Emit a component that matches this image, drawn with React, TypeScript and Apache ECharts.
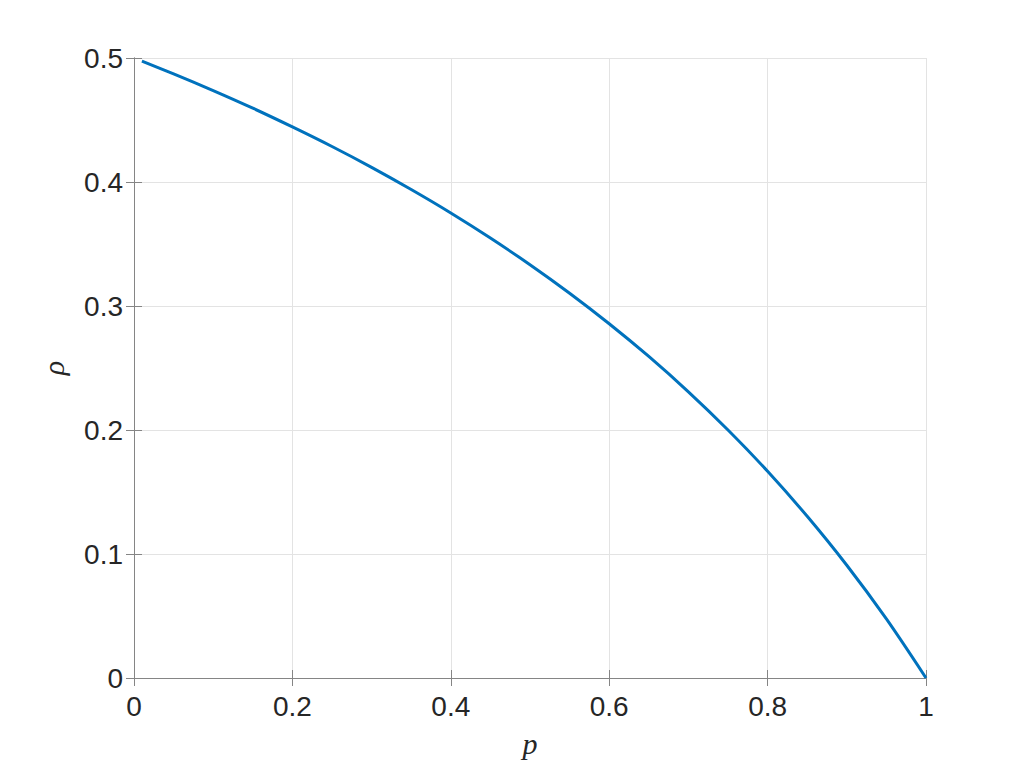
import React, { useEffect, useRef } from "react";
import * as echarts from "echarts";

const pValues = [0.01, 0.05, 0.1, 0.15, 0.2, 0.25, 0.3, 0.35, 0.4, 0.45, 0.5, 0.55, 0.6, 0.65, 0.7, 0.75, 0.8, 0.85, 0.9, 0.95, 1.0];
const rhoValues = [0.4975, 0.4872, 0.4737, 0.4595, 0.4444, 0.4286, 0.4118, 0.3939, 0.375, 0.3548, 0.3333, 0.3103, 0.2857, 0.2593, 0.2308, 0.2, 0.1667, 0.1304, 0.0909, 0.0476, 0.0];
const xTicks = ["0", "0.2", "0.4", "0.6", "0.8", "1"];
const yTicks = ["0", "0.1", "0.2", "0.3", "0.4", "0.5"];

const axisColor = "#858585";
const textColor = "#262626";
const gridColor = "#e3e3e3";
const labelFont = "'Liberation Sans', Arial, Helvetica, sans-serif";
const nameFont = "'Liberation Serif', 'DejaVu Serif', serif";

export default function App() {
  const ref = useRef<HTMLDivElement>(null);
  useEffect(() => {
    if (!ref.current) return;
    const chart = echarts.init(ref.current, undefined, { renderer: "svg" });
    const fmt = (list: string[], step: number) => (v: number) => {
      const i = Math.round(v / step);
      return list[i] ?? String(v);
    };
    const baseAxisLine = { show: true, lineStyle: { color: axisColor, width: 1 } };
    const tick = { show: true, inside: true, length: 8, lineStyle: { color: axisColor, width: 1 } };
    chart.setOption({
      animation: false,
      backgroundColor: "#ffffff",
      grid: { left: 134, top: 58, right: 98, bottom: 89, containLabel: false },
      xAxis: [
        {
          type: "value",
          min: 0,
          max: 1,
          interval: 0.2,
          position: "bottom",
          axisLine: baseAxisLine,
          axisTick: tick,
          axisLabel: {
            color: textColor,
            fontSize: 28,
            fontFamily: labelFont,
            margin: 14,
            formatter: fmt(xTicks, 0.2),
          },
          splitLine: { show: true, lineStyle: { color: gridColor, width: 1 } },
          name: "p",
          nameLocation: "middle",
          nameGap: 50,
          nameTextStyle: { fontSize: 30, fontStyle: "italic", fontFamily: nameFont, color: textColor },
        },
        {
          type: "value",
          min: 0,
          max: 1,
          interval: 0.2,
          position: "top",
          axisLine: baseAxisLine,
          axisTick: tick,
          axisLabel: { show: false },
          splitLine: { show: false },
        },
      ],
      yAxis: [
        {
          type: "value",
          min: 0,
          max: 0.5,
          interval: 0.1,
          position: "left",
          axisLine: baseAxisLine,
          axisTick: tick,
          axisLabel: {
            color: textColor,
            fontSize: 28,
            fontFamily: labelFont,
            margin: 11,
            formatter: fmt(yTicks, 0.1),
          },
          splitLine: { show: true, lineStyle: { color: gridColor, width: 1 } },
          name: "ρ",
          nameLocation: "middle",
          nameGap: 66,
          nameRotate: 90,
          nameTextStyle: { fontSize: 30, fontStyle: "italic", fontFamily: nameFont, color: textColor },
        },
        {
          type: "value",
          min: 0,
          max: 0.5,
          interval: 0.1,
          position: "right",
          axisLine: baseAxisLine,
          axisTick: tick,
          axisLabel: { show: false },
          splitLine: { show: false },
        },
      ],
      series: [
        {
          type: "line",
          xAxisIndex: 0,
          yAxisIndex: 0,
          data: pValues.map((p, i) => [p, rhoValues[i]]),
          showSymbol: false,
          smooth: 0.3,
          lineStyle: { color: "#0072BD", width: 3 },
          itemStyle: { color: "#0072BD" },
        },
      ],
    });
    return () => chart.dispose();
  }, []);
  return (
    <div
      ref={ref}
      style={{ position: "fixed", left: 0, top: 0, width: 1024, height: 767, background: "#fff" }}
    />
  );
}
